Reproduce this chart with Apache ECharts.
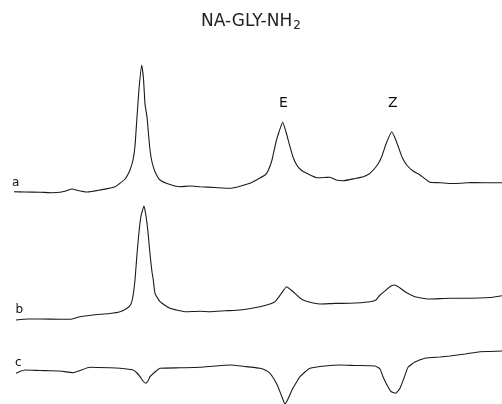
<!DOCTYPE html>
<html><head><meta charset="utf-8">
<script src="https://cdn.jsdelivr.net/npm/echarts@6/dist/echarts.min.js"></script>
<style>html,body{margin:0;padding:0;background:#fff}#c{width:502px;height:404px}</style>
</head><body><div id="c"></div>
<script>
// Spectrum traces: [frequency channel, signal level] (signal measured upward on a shared scale)
const traceA = [[14,212.3],[25,212],[40,211.8],[52,211.3],[60,211.7],[66,213],[72,215],[78,213.5],[87,212],[100,214],[115,217.3],[125,225],[130,234],[133,244],[135,258],[137,287],[139,315],[141.7,339],[143.5,325],[145,300],[147,287],[148.5,270],[150,254],[152,242],[155,232.3],[160,224],[170,219.5],[180,217.3],[190,218],[200,217.3],[215,216.5],[230,215.7],[250,220.7],[260,226],[265,229],[268,233],[272,244],[276,262],[279,272],[282.7,281.7],[286,272],[290,257.3],[293,247],[296.7,239],[301,234],[306.7,230.7],[316.7,226.3],[325,226.5],[330,226.8],[336,224],[343.3,223.3],[355,225.5],[363.3,227.3],[369,230],[373.3,234],[378,240],[381.7,247.3],[386,260],[391.7,272.3],[395,266],[398.3,257.3],[402,247],[406.7,239],[413,233],[420,229],[430,221.7],[440,221.3],[452,220.5],[460,220.7],[470,221.5],[483,221.3],[502,221.3]];
const traceB = [[16,84],[28,85],[40,85],[60,84.8],[70,84.7],[80,87.3],[100,89.7],[110,90.5],[120,92.3],[127,95.7],[131,100],[133,108],[135,124],[137,150],[139,172],[141,188],[144,198],[146,188],[148,172],[150,150],[152,132],[153.3,124],[155,110.7],[160,102.3],[170,95.7],[185,92.3],[200,92.8],[210,92.3],[225,93.2],[240,94],[260,97.3],[270,100],[275,102.3],[281,110],[286.7,117.3],[291,114],[295,110.7],[300,106],[305,103.3],[320,100],[335,100.6],[350,100.7],[370,102.3],[376,104],[380,109],[386,114],[391,118],[395,119],[400,116],[405,112.3],[410,109.5],[415,107.3],[430,105],[450,105.8],[470,105.7],[490,106.5],[502,108.3]];
const traceC = [[16,30.7],[20,32.5],[25,34],[40,33.5],[50,33.3],[60,33],[73,31.3],[80,33.5],[90,36.7],[110,36.2],[120,35.7],[133,34],[137,31],[140,27.3],[143,23],[145.7,20.7],[148,23],[150,27.3],[155,32],[160,35.7],[180,36.2],[200,36.7],[215,38],[230,39],[245,37.5],[260,35.7],[266,33.5],[270,30.7],[274,25],[278,17.3],[282,7],[285,0],[288,5],[292,14],[296,21],[300,27.3],[305,32],[310,35.7],[325,38],[340,39],[355,38.5],[375,38],[380,35],[383,27.3],[387,19],[391,12.5],[395.7,10.7],[398,13],[400,15.7],[404,26],[408,36.7],[415,42],[425,45.7],[440,47],[450,48],[465,50],[480,52.3],[490,52.5],[502,53]];
const traceNames = ['a','b','c'];
const peakLabels = ['E','Z'];
const peakLabelPos = [[283.3,300.7],[392.7,301]];
const traceLabelPos = [[15.7,221],[19.3,94],[18.3,41]];

const chart = echarts.init(document.getElementById('c'), null, {renderer:'canvas'});
const lineColor = '#1a1a1a';
function trace(name, data, lblPos) {
  return {
    name, type:'line', data, showSymbol:false, symbol:'none', smooth:0.15,
    lineStyle:{color:lineColor, width:1.1}, silent:true, animation:false,
    markPoint:{symbol:'circle', symbolSize:0, silent:true, animation:false,
      label:{show:true, formatter:name, color:'#111', fontFamily:'DejaVu Sans', fontSize:12, fontWeight:'normal'},
      data:[{coord:lblPos}]}
  };
}
const series = traceNames.map((n,i)=>trace(n,[traceA,traceB,traceC][i],traceLabelPos[i]));
series.push({
  type:'scatter', symbolSize:0, silent:true, animation:false,
  itemStyle:{opacity:1},
  data: peakLabelPos.map((p,i)=>({value:p, name:peakLabels[i]})),
  label:{show:true, position:'inside', formatter:p=>p.name, color:'#111', fontFamily:'DejaVu Sans', fontSize:14, fontWeight:'normal'}
});
chart.setOption({
  backgroundColor:'#fff',
  animation:false,
  title:{text:'{t|NA-GLY-NH}{s|2}', left:'center', top:7,
    textStyle:{rich:{t:{fontFamily:'DejaVu Sans', fontSize:17, fontWeight:'normal', color:'#222'},
                     s:{fontFamily:'DejaVu Sans', fontSize:12, fontWeight:'normal', color:'#222', verticalAlign:'bottom', padding:[8,0,0,1]}}}},
  grid:{left:0,right:0,top:0,bottom:0},
  xAxis:{type:'value', min:0, max:502, show:false},
  yAxis:{type:'value', min:0, max:404, show:false},
  series
});
</script></body></html>
